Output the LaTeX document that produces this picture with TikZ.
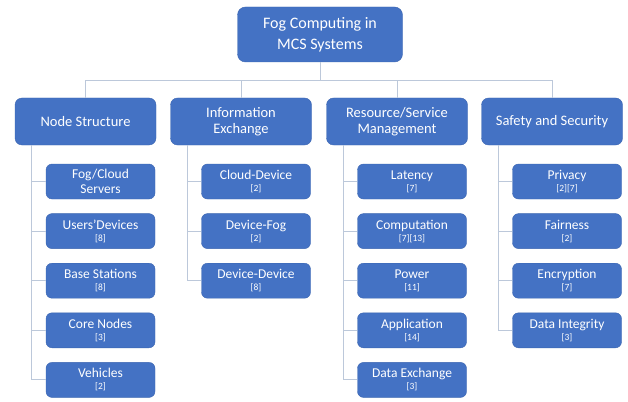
\documentclass[tikz,border=0pt]{standalone}
\usepackage{fontspec}
\setmainfont{Carlito}
\usetikzlibrary{positioning}
\definecolor{boxBlue}{HTML}{4472C4}
\definecolor{boxEdge}{HTML}{3B65B0}
\definecolor{lineGray}{HTML}{BCC8DA}

\begin{document}
\begin{tikzpicture}
[x=1pt,y=-1pt,
  rootDecorate/.style={shape=rectangle,rounded corners=8pt,fill=boxBlue,draw=boxEdge,
    text=white,align=center,minimum width=165pt,minimum height=55pt,
    font=\fontsize{16}{21}\selectfont},
  catDecorate/.style={shape=rectangle,rounded corners=7pt,fill=boxBlue,draw=boxEdge,
    text=white,align=center,minimum width=141pt,minimum height=47pt,inner sep=1pt,
    font=\fontsize{14.5}{16.5}\selectfont},
  leafDecorate/.style={shape=rectangle,rounded corners=6pt,fill=boxBlue,draw=boxEdge,
    text=white,align=center,minimum width=109pt,minimum height=35pt,inner sep=1pt,
    font=\fontsize{13.5}{15}\selectfont},
  lineDecorate/.style={-,draw=lineGray,line width=0.9pt}]
\useasboundingbox (0,0) rectangle (628,401);
\newcommand{\cites}[1]{\\[-3pt]{\fontsize{9.5}{10}\selectfont #1}}
%% root and categories
\node (root) at (320,34.5) [rootDecorate] {Fog Computing in\\MCS Systems};
\coordinate (bus) at (320,80);
\node (ns) at (85.5,121.5) [catDecorate] {Node Structure};
\node (ie) at (241,121.5) [catDecorate] {Information\\Exchange};
\node (rs) at (397,121.5) [catDecorate] {Resource/Service\\Management};
\node (ss) at (552,121.5) [catDecorate] {Safety and Security};
\path[lineDecorate] (root.south) edge (bus);
\foreach \cat in {ns,ie,rs,ss}
{
  \draw[lineDecorate] (bus) -| (\cat.north);
  \coordinate (\cat-rail) at ([xshift=17pt]\cat.south west);
}
%% leaves
\foreach \cat/\i/\txt in {
  ns/1/{Fog/Cloud\\Servers},
  ns/2/{Users’Devices\cites{[8]}},
  ns/3/{Base Stations\cites{[8]}},
  ns/4/{Core Nodes\cites{[3]}},
  ns/5/{Vehicles\cites{[2]}},
  ie/1/{Cloud-Device\cites{[2]}},
  ie/2/{Device-Fog\cites{[2]}},
  ie/3/{Device-Device\cites{[8]}},
  rs/1/{Latency\cites{[7]}},
  rs/2/{Computation\cites{[7][13]}},
  rs/3/{Power\cites{[11]}},
  rs/4/{Application\cites{[14]}},
  rs/5/{Data Exchange\cites{[3]}},
  ss/1/{Privacy\cites{[2][7]}},
  ss/2/{Fairness\cites{[2]}},
  ss/3/{Encryption\cites{[7]}},
  ss/4/{Data Integrity\cites{[3]}}}
{
  \node (\cat-\i) [leafDecorate,anchor=east]
    at ([xshift=-1pt]\cat.east |- 0,{181.5+49.6*(\i-1)}) {\txt};
  \draw[lineDecorate] (\cat-rail) |- (\cat-\i.west);
}
\end{tikzpicture}
\end{document}
